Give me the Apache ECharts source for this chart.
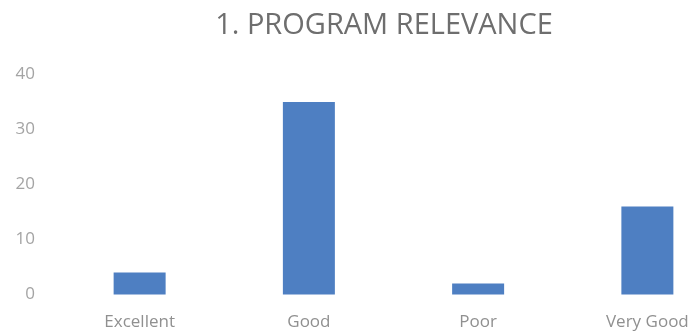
<!DOCTYPE html>
<html>
<head>
<meta charset="utf-8">
<script src="https://cdn.jsdelivr.net/npm/echarts@6/dist/echarts.min.js"></script>
<style>
html,body{margin:0;padding:0;background:#fff;}
#chart{width:694px;height:333px;}
</style>
</head>
<body>
<div id="chart"></div>
<script>
var titleText = '1. PROGRAM RELEVANCE';
var categories = ['Excellent', 'Good', 'Poor', 'Very Good'];
var values = [4, 35, 2, 16];
var yTicks = [0, 10, 20, 30, 40];

var chart = echarts.init(document.getElementById('chart'), null, {renderer: 'canvas'});
chart.setOption({
  animation: false,
  backgroundColor: '#ffffff',
  title: {
    text: titleText,
    left: 379,
    textAlign: 'center',
    top: 6,
    textStyle: {fontFamily: 'Open Sans', fontWeight: 'normal', fontSize: 29, color: '#6e6e6e'}
  },
  grid: {left: 55, width: 677, top: 74.5, bottom: 38.5, containLabel: false, outerBoundsMode: 'none'},
  xAxis: {
    type: 'category',
    data: categories,
    axisLine: {show: false},
    axisTick: {show: false},
    axisLabel: {margin: 19, fontFamily: 'Open Sans', fontSize: 17, color: '#909090'}
  },
  yAxis: {
    type: 'value',
    min: yTicks[0],
    max: yTicks[yTicks.length - 1],
    interval: 10,
    splitLine: {show: false},
    axisLine: {show: false},
    axisTick: {show: false},
    axisLabel: {margin: 20, fontFamily: 'Open Sans', fontSize: 17, color: '#a4a4a4'}
  },
  series: [{
    type: 'bar',
    data: values,
    barWidth: 52,
    itemStyle: {color: '#4e7fc2'}
  }]
});
</script>
</body>
</html>
